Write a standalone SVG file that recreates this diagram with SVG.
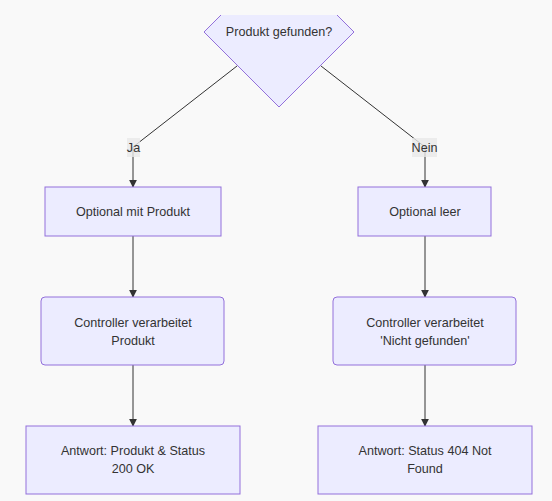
<svg xmlns="http://www.w3.org/2000/svg" width="552" height="501" viewBox="0 0 552 501">
<style>
.node{fill:#ECECFF;stroke:#9370DB;stroke-width:1}
.t{font-family:"Liberation Sans",Arial,sans-serif;font-size:12.6px;fill:#333;text-anchor:middle}
.e{stroke:#333;stroke-width:1;fill:none}
.lb{fill:#e8e8e8;opacity:0.8}
</style>
<defs>
<marker id="arr" viewBox="0 0 10 10" refX="9" refY="5" markerWidth="8" markerHeight="8" orient="auto" markerUnits="userSpaceOnUse">
<path d="M0,0 L10,5 L0,10 z" fill="#333"/>
</marker>
<clipPath id="clip"><rect x="0" y="15" width="552" height="486"/></clipPath>
</defs>
<rect width="552" height="501" fill="#f9f9f9"/>
<g id="connectors">
<polyline class="e" points="237,66 133,147 133,187" marker-end="url(#arr)"/>
<polyline class="e" points="321,66 425,147 425,187" marker-end="url(#arr)"/>
<line class="e" x1="133" y1="236" x2="133" y2="297" marker-end="url(#arr)"/>
<line class="e" x1="425" y1="236" x2="425" y2="297" marker-end="url(#arr)"/>
<line class="e" x1="133" y1="365" x2="133" y2="426" marker-end="url(#arr)"/>
<line class="e" x1="425" y1="365" x2="425" y2="426" marker-end="url(#arr)"/>
<g id="label-ja"><rect class="lb" x="127" y="138" width="13" height="19"/><text class="t" x="133.5" y="152">Ja</text></g>
<g id="label-nein"><rect class="lb" x="412" y="138" width="25" height="19"/><text class="t" x="424.5" y="152">Nein</text></g>
</g>
<g id="n-decision">
<polygon class="node" clip-path="url(#clip)" points="279,-43 354,32 279,107 204,32"/>
<text class="t" x="279" y="36">Produkt gefunden?</text>
</g>
<g id="n-optional-produkt">
<rect class="node" x="45" y="187" width="176" height="49"/>
<text class="t" x="133" y="216">Optional mit Produkt</text>
</g>
<g id="n-optional-leer">
<rect class="node" x="358" y="187" width="133" height="49"/>
<text class="t" x="425" y="216">Optional leer</text>
</g>
<g id="n-controller-produkt">
<rect class="node" x="41" y="297" width="183" height="68" rx="4"/>
<text class="t" x="133" y="327">Controller verarbeitet</text>
<text class="t" x="133" y="345">Produkt</text>
</g>
<g id="n-controller-nicht">
<rect class="node" x="333" y="297" width="183" height="68" rx="4"/>
<text class="t" x="425" y="327">Controller verarbeitet</text>
<text class="t" x="425" y="345">'Nicht gefunden'</text>
</g>
<g id="n-antwort-200">
<rect class="node" x="26" y="426" width="214" height="68"/>
<text class="t" x="133" y="455">Antwort: Produkt &amp; Status</text>
<text class="t" x="133" y="473">200 OK</text>
</g>
<g id="n-antwort-404">
<rect class="node" x="318" y="426" width="214" height="68"/>
<text class="t" x="425" y="455">Antwort: Status 404 Not</text>
<text class="t" x="425" y="473">Found</text>
</g>
</svg>
